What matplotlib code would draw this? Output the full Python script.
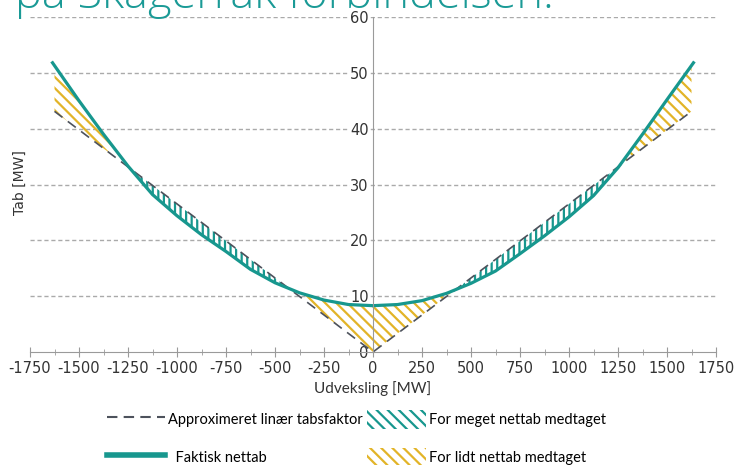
import numpy as np
import matplotlib
matplotlib.use('Agg')
import matplotlib.pyplot as plt
from matplotlib.lines import Line2D
from matplotlib.patches import Patch
from matplotlib.ticker import MultipleLocator

#%%
# data
udveksling = [-1635, -1500, -1375, -1250, -1125, -1000, -875, -750, -625, -500, -375, -250, -125,
              0, 125, 250, 375, 500, 625, 750, 875, 1000, 1125, 1250, 1375, 1500, 1635]
faktisk_tab = [51.8, 45.0, 39.0, 33.3, 28.2, 24.4, 21.0, 18.0, 14.8, 12.4, 10.6, 9.3, 8.5,
               8.3, 8.5, 9.2, 10.5, 12.3, 14.5, 17.6, 20.8, 24.2, 28.0, 33.0, 39.0, 45.2, 51.8]
lin_x = [-1625, 0, 1625]
lin_y = [43.1, 0.0, 43.1]

xticks = [-1750, -1500, -1250, -1000, -750, -500, -250, 0, 250, 500, 750, 1000, 1250, 1500, 1750]
yticks = [0, 10, 20, 30, 40, 50, 60]

teal = '#17978e'
gold = '#e2b428'
dark = '#4d525c'

plt.rcParams['axes.unicode_minus'] = False
plt.rcParams['hatch.linewidth'] = 1.6

#%%
fig = plt.figure(figsize=(7.37, 4.65), dpi=100)
ax = fig.add_axes([30/737, 1-352/465, 686/737, 335/465])

x = np.array(udveksling, dtype=float)
y = np.array(faktisk_tab)
# linear line evaluated at the same x, only for the fill boundaries
xf = x[(x >= lin_x[0]) & (x <= lin_x[-1])]
xf = np.concatenate([[lin_x[0]], xf, [lin_x[-1]]])
yc = np.interp(xf, x, y)
yl = np.interp(xf, lin_x, lin_y)

# thin band: vertical strokes like the original
ax.fill_between(xf, yc, yl, where=yl >= yc, interpolate=True,
                facecolor='none', edgecolor=teal, hatch='|||', linewidth=0, zorder=2)
ax.fill_between(xf, yc, yl, where=yc >= yl, interpolate=True,
                facecolor='none', edgecolor=gold, hatch='\\\\\\', linewidth=0, zorder=2)

ax.plot(lin_x, lin_y, color=dark, lw=1.2, dashes=(6, 4), zorder=3)
ax.plot(x, y, color=teal, lw=2.3, zorder=4)

ax.set_xlim(-1750, 1750)
ax.set_ylim(0, 60)
ax.set_xticks(xticks)
ax.set_xticklabels([str(t) for t in xticks])
ax.xaxis.set_minor_locator(MultipleLocator(125))
ax.set_yticks(yticks)

for t in yticks[1:]:
    ax.axhline(t, color='#aaaaaa', lw=1, dashes=(3, 2), zorder=1)

ax.spines['top'].set_visible(False)
ax.spines['right'].set_visible(False)
ax.spines['left'].set_position(('data', 0))
ax.spines['left'].set_color('#9a9a9a')
ax.spines['left'].set_zorder(5)
ax.spines['bottom'].set_color('#9a9a9a')

ax.tick_params(axis='x', which='both', direction='inout', color='#9a9a9a', labelsize=10.5,
               labelcolor='#333333', pad=3)
ax.tick_params(axis='x', which='major', length=7)
ax.tick_params(axis='x', which='minor', length=5)
ax.tick_params(axis='y', length=0, labelsize=10.5, labelcolor='#333333', pad=3)
for lab in ax.get_yticklabels():
    lab.set_bbox(dict(facecolor='white', edgecolor='none', pad=0.5))

#%%
fig.text(0.02, 1-8/465, 'på Skagerrak forbindelsen.', color='#1a9a96', fontsize=32.5,
         family='Open Sans', weight='light', va='baseline', ha='left')
fig.text(20/737, 1-183/465, 'Tab [MW]', rotation=90, ha='center', va='center',
         fontsize=10, color='#333333')
fig.text(373/737, 1-389/465, 'Udveksling [MW]', ha='center', va='center',
         fontsize=11, family='Lato', color='#333333')

handles = [Line2D([], [], color=dark, lw=1.5, dashes=(5, 3)),
           Line2D([], [], color=teal, lw=4),
           Patch(facecolor='none', edgecolor=teal, hatch='\\\\\\', linewidth=0),
           Patch(facecolor='none', edgecolor=gold, hatch='\\\\\\', linewidth=0)]
labels = ['Approximeret linær tabsfaktor', '  Faktisk nettab',
          'For meget nettab medtaget', 'For lidt nettab medtaget']
fig.legend(handles, labels, loc='upper left', bbox_to_anchor=(107/737, 1-410/465), ncol=2,
           frameon=False, prop={'family': 'Lato', 'size': 10.5}, handlelength=4.0,
           handleheight=1.6, handletextpad=0.2, columnspacing=0.3, labelspacing=1.3,
           borderaxespad=0, borderpad=0)

plt.savefig('out.png', dpi=100)
